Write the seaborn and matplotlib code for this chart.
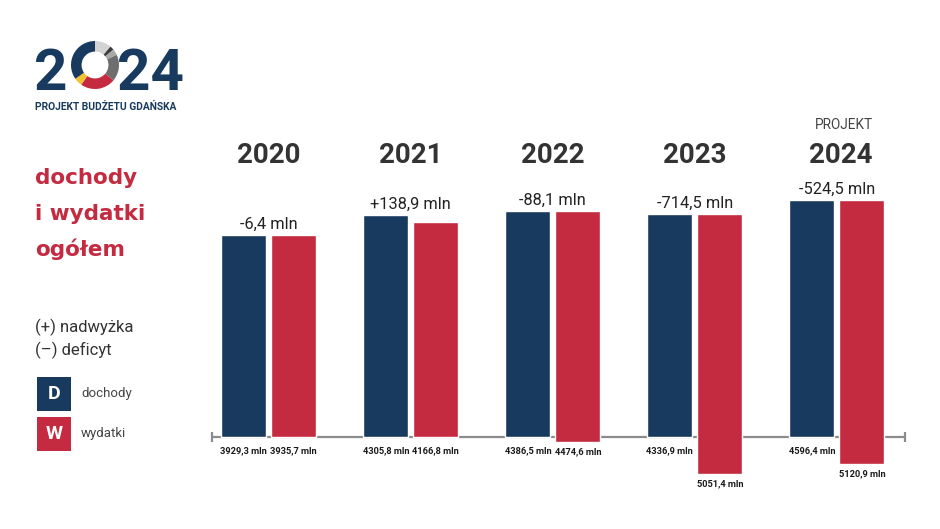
import matplotlib
matplotlib.use("Agg")
import matplotlib.pyplot as plt
import matplotlib.transforms as mtransforms
from matplotlib.patches import Rectangle
import numpy as np
import pandas as pd
import seaborn as sns

# ---------------- data ----------------
years = ["2020", "2021", "2022", "2023", "2024"]
dochody = [3929.3, 4305.8, 4386.5, 4336.9, 4596.4]
wydatki = [3935.7, 4166.8, 4474.6, 5051.4, 5120.9]
saldo = [-6.4, 138.9, -88.1, -714.5, -524.5]
saldo_labels = ["-6,4 mln", "+138,9 mln", "-88,1 mln", "-714,5 mln", "-524,5 mln"]

NAVY = "#173A5E"
RED = "#C42A40"
GRAY_LINE = "#8C8C8C"

sns.set_theme(style="white")
FONT = ["Roboto", "DejaVu Sans"]
plt.rcParams["font.family"] = FONT

W, H = 940, 529
fig = plt.figure(figsize=(W / 100, H / 100), dpi=100)
fig.patch.set_facecolor("white")


def fx(px):
    return px / W


def fy(py):
    return 1 - py / H


def pt(px):
    return px * 0.72


# ---------------- main bar axes ----------------
scale = 0.0515  # px per mln
base_py = 437
ax_top, ax_bot = 100, 520
ax = fig.add_axes([fx(212), fy(ax_bot), (905 - 212) / W, (ax_bot - ax_top) / H])

df = pd.DataFrame({
    "rok": years * 2,
    "typ": ["D"] * len(years) + ["W"] * len(years),
    "kwota": dochody + wydatki,
})
sns.barplot(data=df, x="rok", y="kwota", hue="typ", order=years,
            hue_order=["D", "W"], palette={"D": NAVY, "W": RED},
            width=0.704, gap=0.1, saturation=1, errorbar=None,
            legend=False, ax=ax, zorder=2)

# red bars float: deficit pushes the bottom below the baseline
bottoms = [min(0.0, s) for s in saldo]
for bar, b in zip(ax.containers[1], bottoms):
    bar.set_y(b)

ax.set_xlim(-0.40, 4.48)
ax.set_ylim(-(ax_bot - base_py) / scale, (base_py - ax_top) / scale)
ax.axis("off")

# baseline with end caps
ax.plot([-0.40, 4.48], [0, 0], color=GRAY_LINE, lw=1.6, zorder=1,
        solid_capstyle="butt", clip_on=False)
ax.plot([-0.40, 4.48], [0, 0], linestyle="none", marker="|", markersize=7,
        markeredgewidth=1.6, color=GRAY_LINE, zorder=1, clip_on=False)


def fmt(v):
    return f"{v:.1f}".replace(".", ",") + " mln"


off = 0.176
for i, yr in enumerate(years):
    d, w_, b = dochody[i], wydatki[i], bottoms[i]
    top = max(d, b + w_)
    # balance label above the pair
    ax.annotate(saldo_labels[i], xy=(i, top), xytext=(0, pt(6)),
                textcoords="offset points", ha="center", va="baseline",
                fontsize=11.8, color="#222222")
    # value labels below
    ax.annotate(fmt(d), xy=(i - off, -4 / scale), xytext=(0, -pt(10)),
                textcoords="offset points", ha="center", va="center",
                fontsize=6.7, fontweight="bold", color="#1a1a1a")
    ax.annotate(fmt(w_), xy=(i + off, min(b, -4 / scale)), xytext=(0, -pt(10)),
                textcoords="offset points", ha="center", va="center",
                fontsize=6.7, fontweight="bold", color="#1a1a1a")

# year headings
trans = mtransforms.blended_transform_factory(ax.transData, fig.transFigure)
for i, yr in enumerate(years):
    ax.text(i + (0.03 if i == 4 else 0), fy(163), yr, transform=trans,
            ha="center", va="baseline", fontsize=20, fontweight="bold",
            color="#333333")
ax.text(4.05, fy(129), "PROJEKT", transform=trans, ha="center",
        va="baseline", fontsize=9.8, color="#444444")

# ---------------- logo ----------------
fig.text(fx(34), fy(90), "2", fontsize=42, fontweight="bold", color=NAVY,
         ha="left", va="baseline")
fig.text(fx(184), fy(90), "24", fontsize=42, fontweight="bold", color=NAVY,
         ha="right", va="baseline")
fig.text(fx(35), fy(110), "PROJEKT BUDŻETU GDAŃSKA", fontsize=7.4,
         fontweight="bold", color=NAVY, ha="left", va="baseline")

ring_sizes = [40, 10, 15, 65, 85, 20, 125]
ring_colors = ["#D3D3D3", "#3A3A3A", "#A8A8A8", "#6E6E6E", RED, "#F2C230", NAVY]
lax = fig.add_axes([fx(95 - 24), fy(65 + 24), 48 / W, 48 / H])
lax.pie(ring_sizes, colors=ring_colors, startangle=90, counterclock=False,
        wedgeprops=dict(width=0.44, linewidth=0))
lax.set_xlim(-1, 1)
lax.set_ylim(-1, 1)
lax.set_aspect("equal")
lax.axis("off")

# ---------------- left titles / legend ----------------
for k, line in enumerate(["dochody", "i wydatki", "ogółem"]):
    fig.text(fx(35), fy(184 + 36 * k), line, fontsize=15.5, fontweight="bold",
             color=RED, ha="left", va="baseline", family=["DejaVu Sans"])

fig.text(fx(35), fy(332), "(+) nadwyżka", fontsize=12, color="#333333",
         ha="left", va="baseline")
fig.text(fx(35), fy(355), "(–) deficyt", fontsize=12, color="#333333",
         ha="left", va="baseline")

for k, (letter, col, label) in enumerate([("D", NAVY, "dochody"), ("W", RED, "wydatki")]):
    y0 = 377 + 40 * k
    fig.patches.append(Rectangle((fx(37), fy(y0 + 34)), 34 / W, 34 / H,
                                 transform=fig.transFigure, facecolor=col,
                                 edgecolor="none"))
    fig.text(fx(54), fy(y0 + 17), letter, fontsize=14, fontweight="bold",
             color="white", ha="center", va="center")
    fig.text(fx(81), fy(y0 + 17), label, fontsize=9.5, color="#444444",
             ha="left", va="center")

fig.savefig("out.png", dpi=100, facecolor="white")
